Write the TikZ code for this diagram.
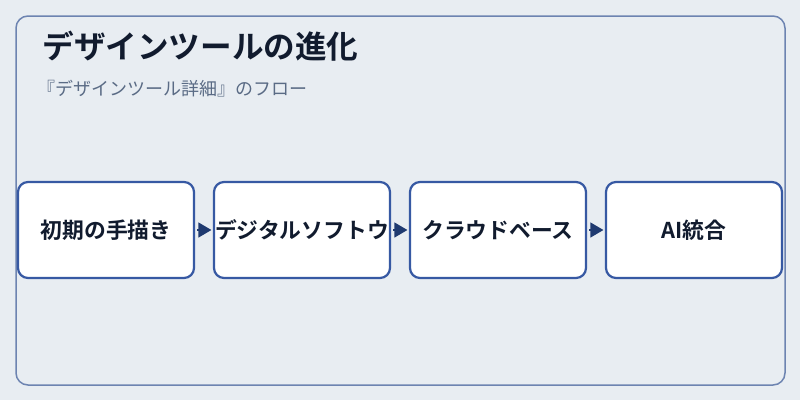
\documentclass[tikz,border=0pt]{standalone}
\usepackage{fontspec}
\setmainfont{Noto Sans CJK JP}
\newfontfamily\jpbold{Noto Sans CJK JP Bold}
\usetikzlibrary{arrows.meta}
\definecolor{bgc}{HTML}{E8EDF2}
\definecolor{framec}{HTML}{6D84B1}
\definecolor{boxc}{HTML}{3759A3}
\definecolor{arrc}{HTML}{1F3A70}
\definecolor{titlec}{HTML}{111B2E}
\definecolor{subc}{HTML}{5A6B85}
\tikzset{
  stepbox/.style={draw=boxc, line width=2.2pt, fill=white, rounded corners=10pt,
    minimum width=176pt, minimum height=96pt, inner sep=0pt,
    font=\jpbold\fontsize{21.8}{26}\selectfont, text=titlec},
  flow/.style={draw=arrc, line width=1.2pt, -{Triangle[length=13pt,width=15pt]}, arrc, shorten <=2pt, shorten >=1.5pt}
}
\begin{document}
\begin{tikzpicture}[x=1pt,y=-1pt]
\useasboundingbox (0,0) rectangle (800,400);
\fill[bgc] (0,0) rectangle (800,400);
\draw[framec, line width=1.5pt, rounded corners=12pt] (16,16) rectangle (785,385);
\node[anchor=west, font=\jpbold\fontsize{31.6}{36}\selectfont, text=titlec] (title) at (39,46) {デザインツールの進化};
\node[anchor=west, font=\fontsize{18}{22}\selectfont, text=subc] (sub) at (34,89) {『デザインツール詳細』のフロー};
\node[stepbox] (b1) at (106,230) {初期の手描き};
\node[stepbox] (b2) at (302,230) {デジタルソフトウ};
\node[stepbox] (b3) at (498,230) {クラウドベース};
\node[stepbox] (b4) at (694,230) {AI統合};
\draw[flow] (b1) -- (b2);
\draw[flow] (b2) -- (b3);
\draw[flow] (b3) -- (b4);
\end{tikzpicture}
\end{document}
